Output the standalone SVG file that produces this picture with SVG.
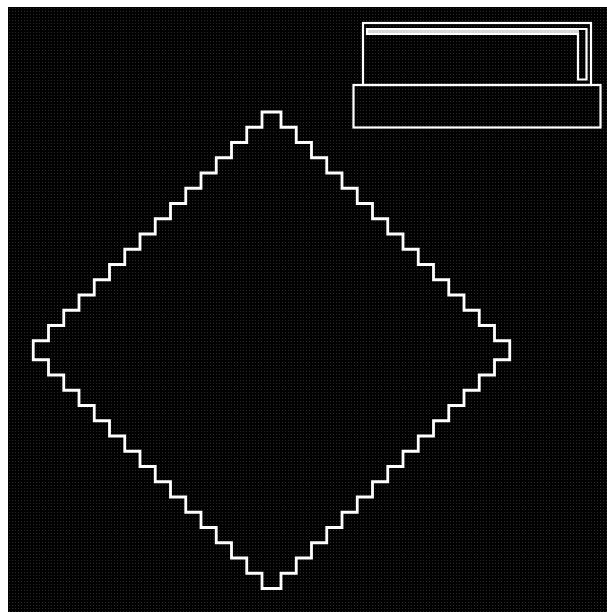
<svg xmlns="http://www.w3.org/2000/svg" width="607" height="612" viewBox="0 0 607 612">
  <defs>
    <pattern id="dots" x="8" y="7" width="3" height="3" patternUnits="userSpaceOnUse">
      <rect width="3" height="3" fill="#000"/>
      <rect x="1" y="1" width="1" height="1" fill="#2a2a2a"/>
    </pattern>
  </defs>
  <style>
    .ln { fill: none; stroke: #fff; stroke-width: 2.2; }
    .dm { fill: none; stroke: #fff; stroke-width: 2.8; stroke-linejoin: miter; }
  </style>
  <rect x="0" y="0" width="607" height="612" fill="#fff"/>
  <rect x="8" y="7" width="599" height="605" fill="url(#dots)"/>
  <g id="device">
    <rect class="ln" x="363" y="23" width="228" height="62"/>
    <rect x="368" y="30" width="211" height="3.5" fill="#d8d8d8"/>
    <path class="ln" d="M367,29 H586.5 V79.5 H578 V34 H367 Z"/>
    <rect class="ln" x="353.5" y="85" width="247" height="42.5" fill="#000"/>
  </g>
  <g id="diamond">
    <path class="dm" d="M262,112 h19 v15.25 h15.25 v15.25 h15.25 v15.25 h15.25 v15.25 h15.25 v15.25 h15.25 v15.25 h15.25 v15.25 h15.25 v15.25 h15.25 v15.25 h15.25 v15.25 h15.25 v15.25 h15.25 v15.25 h15.25 v15.25 h15.25 v15.25 h15.25 v15.25 h15.25 v19 h-15.25 v15.25 h-15.25 v15.25 h-15.25 v15.25 h-15.25 v15.25 h-15.25 v15.25 h-15.25 v15.25 h-15.25 v15.25 h-15.25 v15.25 h-15.25 v15.25 h-15.25 v15.25 h-15.25 v15.25 h-15.25 v15.25 h-15.25 v15.25 h-15.25 v15.25 h-15.25 v15.25 h-19 v-15.25 h-15.25 v-15.25 h-15.25 v-15.25 h-15.25 v-15.25 h-15.25 v-15.25 h-15.25 v-15.25 h-15.25 v-15.25 h-15.25 v-15.25 h-15.25 v-15.25 h-15.25 v-15.25 h-15.25 v-15.25 h-15.25 v-15.25 h-15.25 v-15.25 h-15.25 v-15.25 h-15.25 v-15.25 h-15.25 v-19 h15.25 v-15.25 h15.25 v-15.25 h15.25 v-15.25 h15.25 v-15.25 h15.25 v-15.25 h15.25 v-15.25 h15.25 v-15.25 h15.25 v-15.25 h15.25 v-15.25 h15.25 v-15.25 h15.25 v-15.25 h15.25 v-15.25 h15.25 v-15.25 h15.25 v-15.25 h15.25 v-15.25 z"/>
  </g>
</svg>
